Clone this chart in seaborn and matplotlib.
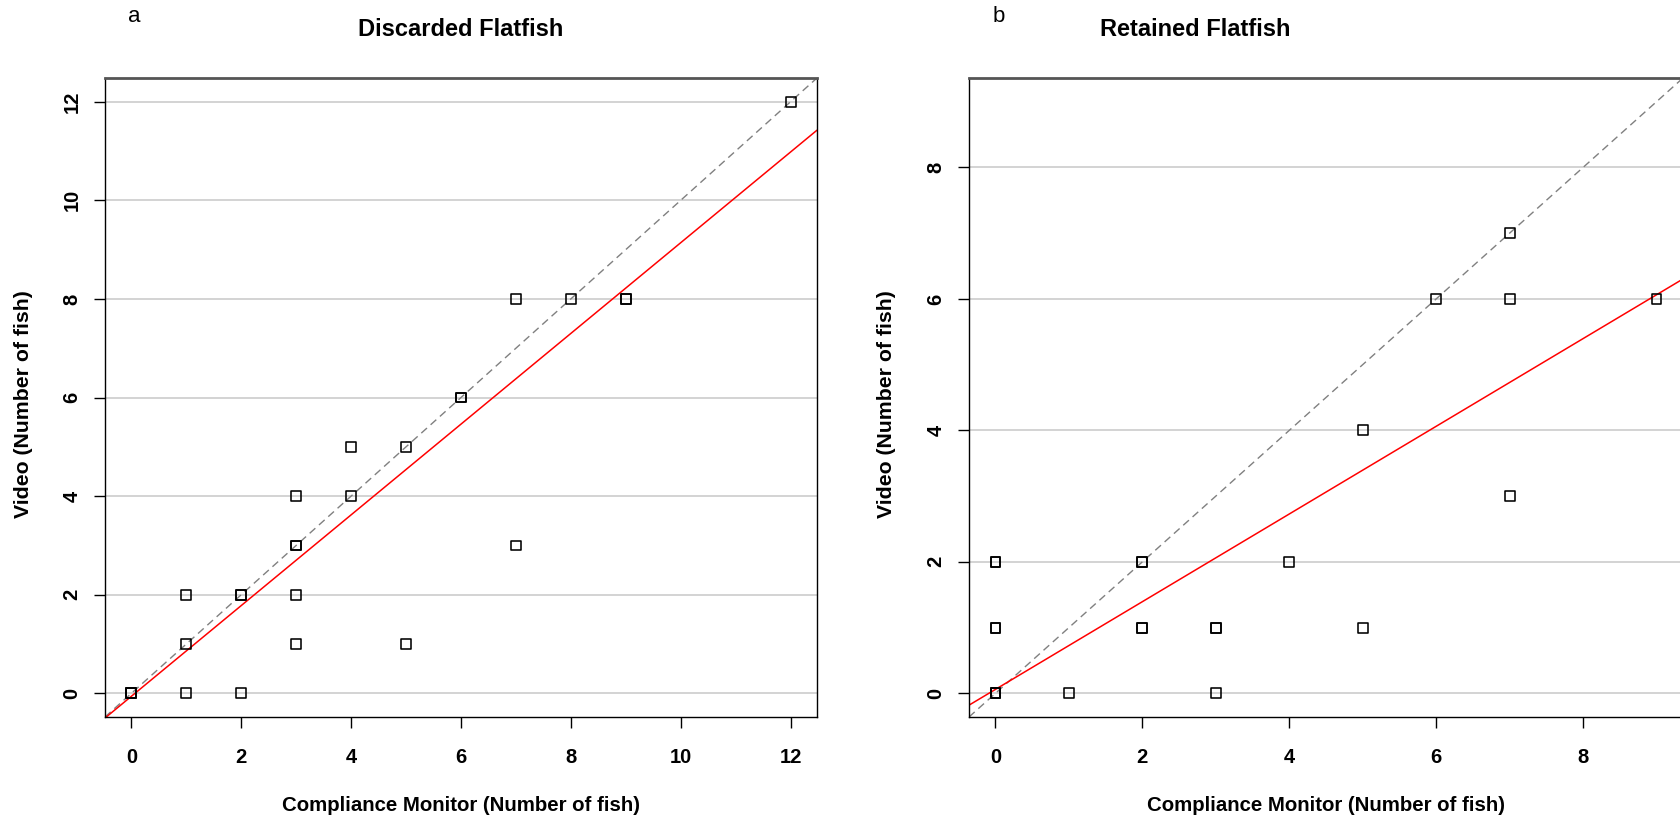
import matplotlib
matplotlib.use("Agg")
import matplotlib.pyplot as plt
import seaborn as sns
import numpy as np

# ---- data ----
disc_monitor = [0, 0, 0, 1, 1, 1, 2, 2, 2, 3, 3, 3, 3, 3, 4, 4, 5, 5, 6, 6, 7, 7, 8, 9, 9, 12]
disc_video   = [0, 0, 0, 0, 1, 2, 0, 2, 2, 1, 2, 3, 3, 4, 4, 5, 1, 5, 6, 6, 3, 8, 8, 8, 8, 12]
ret_monitor = [0, 0, 0, 0, 0, 0, 0, 1, 2, 2, 2, 2, 3, 3, 3, 4, 5, 5, 6, 7, 7, 7, 9]
ret_video   = [0, 0, 0, 1, 1, 2, 2, 0, 1, 1, 2, 2, 0, 1, 1, 2, 1, 4, 6, 3, 6, 7, 6]
disc_fit = (-0.06, 0.92)   # intercept, slope
ret_fit = (0.06, 0.667)
disc_ticks = [0, 2, 4, 6, 8, 10, 12]
ret_ticks = [0, 2, 4, 6, 8]
titles = ["Discarded Flatfish", "Retained Flatfish"]
letters = ["a", "b"]
xlabel = "Compliance Monitor (Number of fish)"
ylabel = "Video (Number of fish)"

sns.set_style("white")
plt.rcParams["font.family"] = ["Liberation Sans", "DejaVu Sans"]
plt.rcParams["text.color"] = "black"
plt.rcParams["axes.labelcolor"] = "black"
plt.rcParams["xtick.color"] = "black"
plt.rcParams["ytick.color"] = "black"

W, H = 1680, 819
fig = plt.figure(figsize=(W / 100, H / 100), dpi=100)

def px_axes(left, top, right, bottom):
    return fig.add_axes([left / W, 1 - bottom / H, (right - left) / W, (bottom - top) / H])

ax1 = px_axes(105, 78, 817, 717)
ax2 = px_axes(969, 78, 1683, 717)

panels = [
    (ax1, disc_monitor, disc_video, disc_fit, disc_ticks, (-0.48, 12.48), (-0.48, 12.48)),
    (ax2, ret_monitor, ret_video, ret_fit, ret_ticks, (-0.36, 9.36), (-0.36, 9.36)),
]

for ax, xs, ys, fit, ticks, xl, yl in panels:
    ax.set_xlim(*xl)
    ax.set_ylim(*yl)
    for t in ticks:
        ax.axhline(t, color="#c8c8c8", lw=1.1, zorder=0)
    ax.axline((0, 0), slope=1, color="#808080", lw=1.0, ls=(0, (5.5, 3.5)), zorder=1)
    ax.axline((0, fit[0]), slope=fit[1], color="red", lw=1.1, zorder=2)
    sns.scatterplot(x=xs, y=ys, ax=ax, marker="s", s=50, facecolor="none",
                    edgecolor="black", linewidth=1.15, zorder=3, legend=False)
    ax.set_xticks(ticks)
    ax.set_yticks(ticks)
    ax.set_xticklabels([str(t) for t in ticks], fontsize=14.5, fontweight="bold")
    ax.set_yticklabels([str(t) for t in ticks], fontsize=14.5, fontweight="bold",
                       rotation=90, va="center")
    ax.tick_params(axis="both", direction="out", length=8, width=1.0, color="black",
                   bottom=True, left=True)
    ax.tick_params(axis="x", pad=14)
    ax.tick_params(axis="y", pad=9)
    ax.set_xlabel(xlabel, fontsize=14.7, fontweight="bold")
    ax.set_ylabel(ylabel, fontsize=15.3, fontweight="bold")
    ax.xaxis.label.set_va("center")
    ax.yaxis.label.set_va("center")
    ax.xaxis.set_label_coords(0.5, -0.138)
    ax.yaxis.set_label_coords(-0.115, 0.49)
    for side in ["left", "bottom", "right"]:
        ax.spines[side].set_color("black")
        ax.spines[side].set_linewidth(1.0)
    ax.spines["top"].set_color("#555555")
    ax.spines["top"].set_linewidth(2.0)
    ax.grid(False)

ax2.spines["right"].set_visible(False)

fig.text(461 / W, 1 - 30 / H, titles[0], ha="center", va="center", fontsize=17, fontweight="bold")
fig.text(1195 / W, 1 - 30 / H, titles[1], ha="center", va="center", fontsize=17, fontweight="bold")
fig.text(134 / W, 1 - 17 / H, letters[0], ha="center", va="center", fontsize=16)
fig.text(999 / W, 1 - 17 / H, letters[1], ha="center", va="center", fontsize=16)

fig.savefig("out.png", dpi=100)
